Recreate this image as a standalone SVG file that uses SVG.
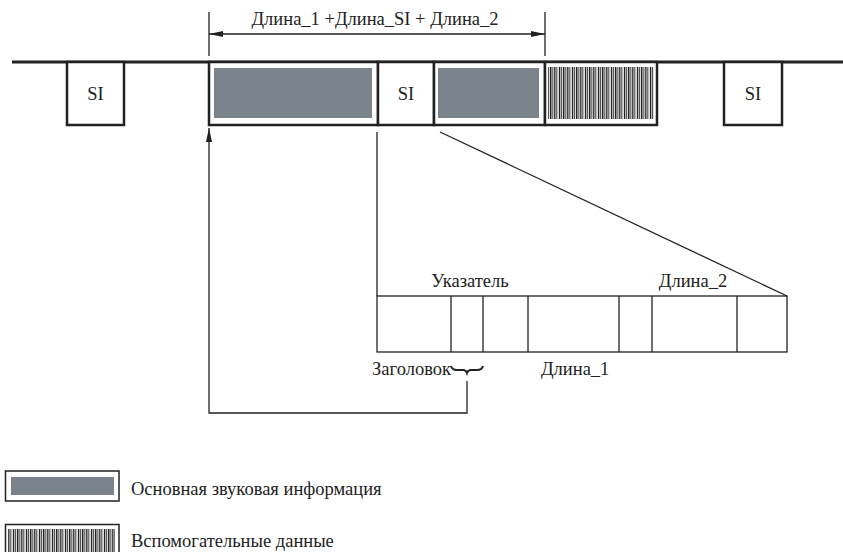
<svg xmlns="http://www.w3.org/2000/svg" width="843" height="552" viewBox="0 0 843 552">
<style>
.box{fill:#fff;stroke:#222;stroke-width:2.5}
.thin{fill:none;stroke:#222;stroke-width:1.3}
.grey{fill:#7a838b}
.hatch{fill:url(#hp)}
</style>
<defs>
<pattern id="hp" x="0" y="0" width="13" height="10" patternUnits="userSpaceOnUse">
<rect width="13" height="10" fill="#dcdcdc"/>
<rect x="0" width="1.2" height="10" fill="#222"/>
<rect x="2.2" width="0.8" height="10" fill="#333"/>
<rect x="4" width="1.4" height="10" fill="#222"/>
<rect x="6.4" width="0.8" height="10" fill="#444"/>
<rect x="8.2" width="1.2" height="10" fill="#222"/>
<rect x="10.4" width="0.8" height="10" fill="#333"/>
</pattern>
<marker id="ah" viewBox="0 0 14 6" refX="14" refY="3" markerWidth="14" markerHeight="6" markerUnits="userSpaceOnUse" orient="auto-start-reverse">
<path d="M0,0 L14,3 L0,6 Z" fill="#222"/>
</marker>
</defs>

<g font-family="Liberation Serif, DejaVu Serif, serif" font-size="18.5" fill="#222">
<g id="stream">
<line x1="12" y1="62" x2="843" y2="62" stroke="#222" stroke-width="3"/>
</g>

<g id="si1">
<rect class="box" x="67" y="62" width="57" height="63"/>
<text x="95.5" y="100" text-anchor="middle">SI</text>
</g>
<g id="audio1">
<rect class="box" x="209" y="62" width="169" height="63"/>
<rect class="grey" x="214" y="68" width="158" height="50"/>
</g>
<g id="si2">
<rect class="box" x="378" y="62" width="56" height="63"/>
<text x="406" y="100" text-anchor="middle">SI</text>
</g>
<g id="audio2">
<rect class="box" x="434" y="62" width="111" height="63"/>
<rect class="grey" x="438" y="68" width="101" height="50"/>
</g>
<g id="aux">
<rect class="box" x="545" y="62" width="112" height="63"/>
<rect class="hatch" x="548" y="67" width="106" height="52"/>
</g>
<g id="si3">
<rect class="box" x="724" y="62" width="58" height="63"/>
<text x="753" y="100" text-anchor="middle">SI</text>
</g>

<g id="dimension">
<line x1="209" y1="12" x2="209" y2="56" stroke="#222" stroke-width="1.3"/>
<line x1="545" y1="12" x2="545" y2="56" stroke="#222" stroke-width="1.3"/>
<line x1="209" y1="34" x2="545" y2="34" stroke="#222" stroke-width="1.3" marker-start="url(#ah)" marker-end="url(#ah)"/>
<text x="375" y="25" text-anchor="middle">Длина_1 +Длина_SI + Длина_2</text>
</g>

<g id="si-detail">
<rect class="thin" x="377" y="296" width="410" height="56"/>
<line class="thin" x1="451" y1="296" x2="451" y2="352"/>
<line class="thin" x1="483" y1="296" x2="483" y2="352"/>
<line class="thin" x1="528" y1="296" x2="528" y2="352"/>
<line class="thin" x1="619" y1="296" x2="619" y2="352"/>
<line class="thin" x1="652" y1="296" x2="652" y2="352"/>
<line class="thin" x1="737" y1="296" x2="737" y2="352"/>
<text x="470" y="287" text-anchor="middle">Указатель</text>
<text x="693" y="287" text-anchor="middle">Длина_2</text>
<text x="451" y="375" text-anchor="end">Заголовок</text>
<text x="541" y="375">Длина_1</text>
<path d="M451,366 Q452,370 457,370 L463,370 Q466,370 467,373 Q468,370 471,370 L477,370 Q482,370 483,366" fill="none" stroke="#222" stroke-width="2"/>
</g>

<g id="connectors">
<line class="thin" x1="377" y1="132" x2="377" y2="296"/>
<line class="thin" x1="440" y1="132" x2="787" y2="296"/>
<polyline class="thin" points="467,381 467,413 209,413 209,128" marker-end="url(#ah)"/>
</g>

<g id="legend-audio">
<rect x="5.5" y="471" width="113.5" height="30" fill="#fff" stroke="#222" stroke-width="1.5"/>
<rect class="grey" x="11" y="477" width="103" height="18"/>
<text x="131" y="495">Основная звуковая информация</text>
</g>
<g id="legend-aux">
<rect x="5.5" y="524.5" width="113.5" height="30" fill="#fff" stroke="#222" stroke-width="1.5"/>
<rect class="hatch" x="8" y="529" width="107" height="23"/>
<text x="131" y="547">Вспомогательные данные</text>
</g>
</g>
</svg>
